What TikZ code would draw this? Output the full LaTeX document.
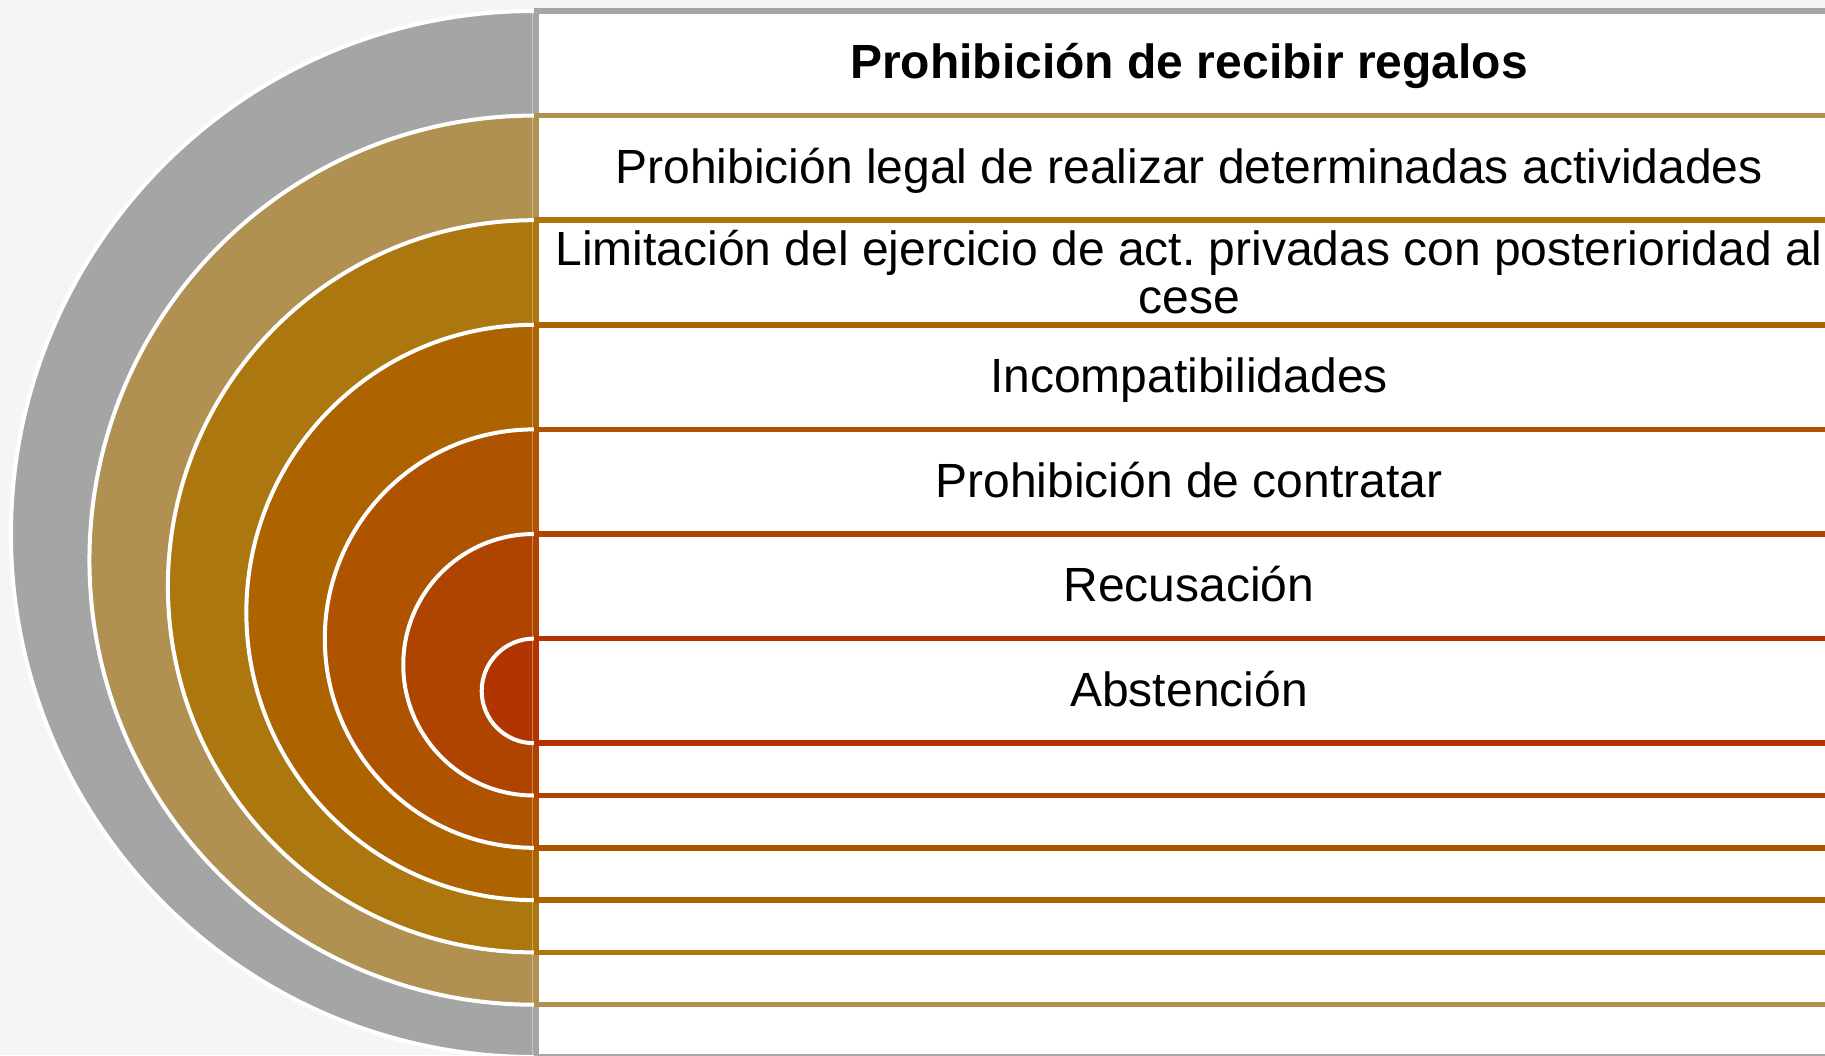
\documentclass[tikz,border=0pt]{standalone}
\usepackage{fontspec}
\setmainfont{Liberation Sans}
\frenchspacing
\definecolor{bg}{HTML}{F5F5F5}
\definecolor{cA}{HTML}{A5A5A5}
\definecolor{cB}{HTML}{B09152}
\definecolor{cC}{HTML}{AC770F}
\definecolor{cD}{HTML}{AD6400}
\definecolor{cE}{HTML}{AE5300}
\definecolor{cF}{HTML}{AF4400}
\definecolor{cG}{HTML}{B23400}
\begin{document}
\begin{tikzpicture}[x=1pt,y=-1pt,
  ring/.style={fill=#1, draw=white, line width=4pt},
  rowbox/.style={fill=white, draw=#1, line width=5.5pt},
  rowtext/.style={font=\fontsize{48}{48}\selectfont, align=center, text height=38pt, text depth=7pt, inner sep=0pt}]
\useasboundingbox (0,0) rectangle (1825,1055);
\clip (0,0) rectangle (1825,1055);
\fill[bg] (0,0) rectangle (1825,1055);
\foreach \k/\c in {1/cA,2/cB,3/cC,4/cD,5/cE,6/cF,7/cG} {
  \pgfmathsetmacro\r{52.3+(7-\k)*78.45}
  \pgfmathsetmacro\t{11+(\k-1)*104.6}
  \pgfmathsetmacro\cy{\t+\r}
  \pgfmathsetmacro\b{\t+2*\r}
  \path[ring=\c] (534,\cy) circle[radius=\r pt];
  \path[rowbox=\c] (536.5,\t) rectangle (1900,\b);
}
\draw[white, opacity=0.35, line width=1pt] (532.5,11) -- (532.5,1055);
\node[rowtext, font=\fontsize{48}{48}\selectfont\bfseries] (t1) at (1189,63.3) {Prohibición de recibir regalos};
\node[rowtext] (t2) at (1189,167.9) {Prohibición legal de realizar determinadas actividades};
\node[font=\fontsize{48}{48}\selectfont, align=center, inner sep=0pt] (t3) at (1189,272.5) {Limitación del ejercicio de act. privadas con posterioridad al\\cese};
\node[rowtext] (t4) at (1189,377.1) {Incompatibilidades};
\node[rowtext] (t5) at (1189,481.7) {Prohibición de contratar};
\node[rowtext] (t6) at (1189,586.3) {Recusación};
\node[rowtext] (t7) at (1189,690.9) {Abstención};
\end{tikzpicture}
\end{document}
